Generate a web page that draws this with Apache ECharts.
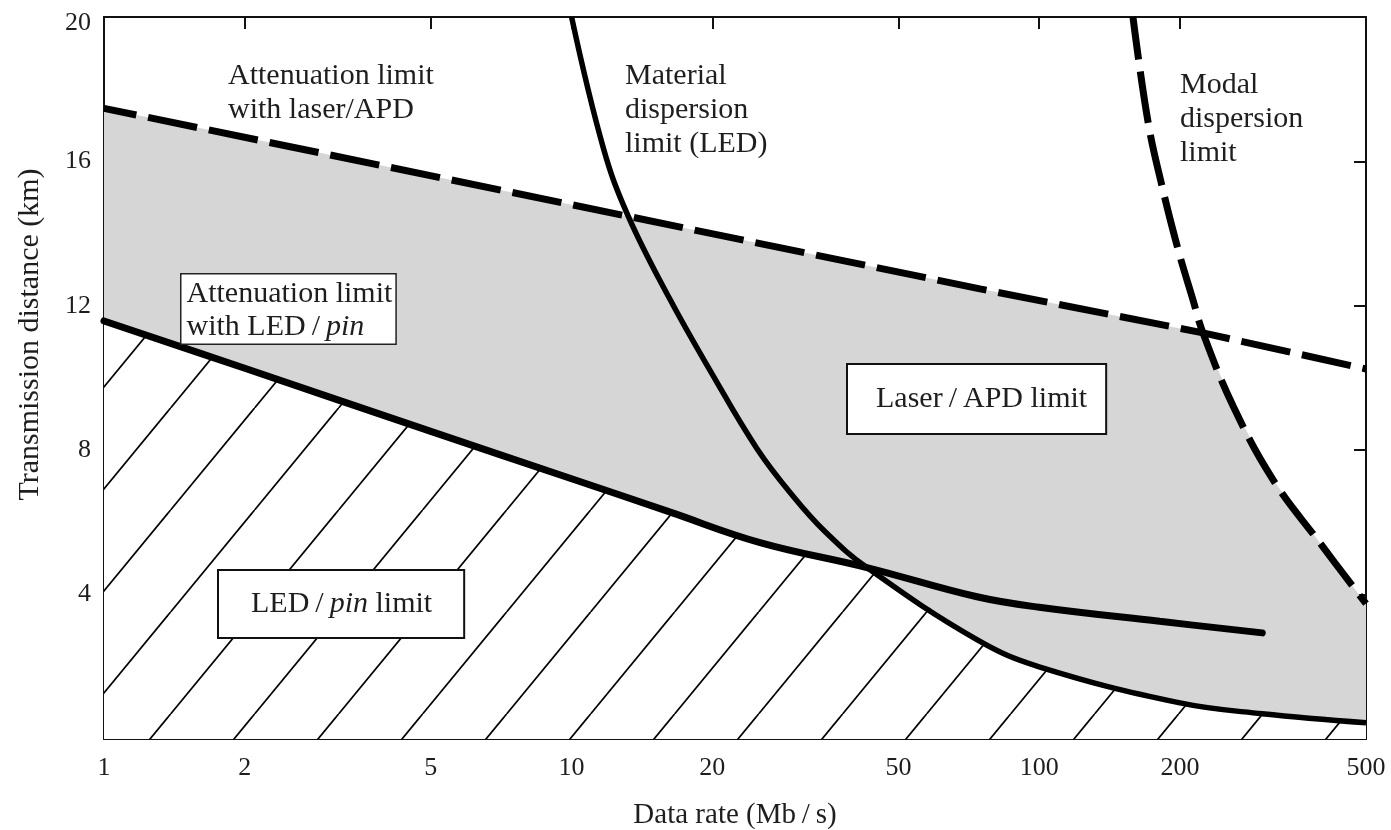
<!DOCTYPE html>
<html><head><meta charset="utf-8">
<script src="https://cdn.jsdelivr.net/npm/echarts@6/dist/echarts.min.js"></script>
<style>html,body{margin:0;padding:0;background:#fff}#c{width:1391px;height:830px}</style>
</head><body><div id="c"></div>
<script>
// ---- data ----
const xTicks = [1, 2, 5, 10, 20, 50, 100, 200, 500];
const yTicks = [4, 8, 12, 16, 20];
// Attenuation limit with laser/APD (dashed)
const laserApd = [[1, 17.47], [10, 14.8], [74.7, 12.47], [224, 11.25], [500, 10.25]];
// Attenuation limit with LED/pin (solid)
const ledPin = [[1, 11.58], [2, 10.27], [5, 8.52], [10, 7.21], [16.2, 6.29], [25.3, 5.44], [42.8, 4.75], [73.6, 3.94], [100, 3.65], [181, 3.26], [300, 2.94]];
// Material dispersion limit (LED) (solid)
const material = [[10, 20], [11.7, 16.36], [13.2, 14.5], [16.2, 12.2], [19.8, 10.2], [24.9, 8.05], [29.8, 6.72], [35, 5.72], [42.8, 4.75], [73.6, 2.75], [100, 2.0], [200, 1.0], [300, 0.7], [500, 0.45]];
// Modal dispersion limit (dashed)
const modal = [[158.7, 20], [170.9, 17.1], [183, 15.33], [198, 13.58], [213, 12.19], [224, 11.25], [260, 9.22], [316, 7.19], [398, 5.44], [500, 3.75]];
const laserModalX = 224;   // where laser/APD meets modal limit
const ledMaterialX = 42.8; // where LED/pin meets material limit

// regions built from the curves
const grayTop = laserApd.filter(p => p[0] <= laserModalX).concat(modal.filter(p => p[0] > laserModalX));
const hatchTop = ledPin.filter(p => p[0] <= ledMaterialX).concat(material.filter(p => p[0] > ledMaterialX));

const F = "'Liberation Serif', 'Times New Roman', serif";
const TXT = '#1e1e1e';

function hatchPattern() {
  const W = 84, H = 102;
  const c = document.createElement('canvas'); c.width = W; c.height = H;
  const g = c.getContext('2d');
  g.fillStyle = '#fff'; g.fillRect(0, 0, W, H);
  g.strokeStyle = '#000'; g.lineWidth = 1.7;
  const phase = 2.6;
  for (let k = -2; k <= 2; k++) {
    const cc = phase + k * W;
    g.beginPath(); g.moveTo(cc, 0); g.lineTo(cc - W, H); g.stroke();
  }
  return c;
}

const axisLine = { show: true, onZero: false, lineStyle: { color: '#111', width: 2 } };
const chart = echarts.init(document.getElementById('c'), null, { renderer: 'canvas' });
chart.setOption({
  animation: false,
  backgroundColor: '#fff',
  grid: { left: 104, right: 25, top: 17, bottom: 91, outerBoundsMode: 'none', show: false },
  xAxis: [{
    type: 'log', logBase: 10, min: 1, max: 500, position: 'bottom',
    name: 'Data rate (Mb\u2009/\u2009s)', nameLocation: 'middle', nameGap: 62,
    nameTextStyle: { fontFamily: F, fontSize: 29, color: TXT },
    axisLine: axisLine,
    axisTick: { show: true, inside: true, length: 12, lineStyle: { color: '#111', width: 2 }, customValues: xTicks },
    axisLabel: { show: true, margin: 16, fontFamily: F, fontSize: 26, color: TXT, customValues: xTicks, formatter: v => String(Math.round(v)) },
    splitLine: { show: false }, minorTick: { show: false }
  }, {
    type: 'log', logBase: 10, min: 1, max: 500, position: 'top',
    axisLine: axisLine,
    axisTick: { show: true, inside: true, length: 12, lineStyle: { color: '#111', width: 2 }, customValues: xTicks },
    axisLabel: { show: false }, splitLine: { show: false }, minorTick: { show: false }
  }],
  yAxis: [{
    type: 'value', min: 0, max: 20, interval: 4, position: 'left',
    name: 'Transmission distance (km)', nameLocation: 'middle', nameGap: 59, nameRotate: 90,
    nameTextStyle: { fontFamily: F, fontSize: 30, color: TXT, padding: [0, 0, 0, 87] },
    axisLine: axisLine,
    axisTick: { show: true, inside: true, length: 12, lineStyle: { color: '#111', width: 2 } },
    axisLabel: { show: true, margin: 13, fontFamily: F, fontSize: 26, color: TXT,
      formatter: v => (v === yTicks[yTicks.length - 1] ? '{t|' + v + '}' : (yTicks.indexOf(v) >= 0 ? String(v) : '')),
      rich: { t: { fontFamily: F, fontSize: 26, color: TXT, padding: [12, 0, 0, 0] } } },
    splitLine: { show: false }
  }, {
    type: 'value', min: 0, max: 20, interval: 4, position: 'right',
    axisLine: axisLine,
    axisTick: { show: true, inside: true, length: 12, lineStyle: { color: '#111', width: 2 } },
    axisLabel: { show: false }, splitLine: { show: false }
  }],
  series: [
    { name: 'laserRegion', type: 'line', data: grayTop, showSymbol: false, silent: true, z: 1,
      lineStyle: { width: 0 }, areaStyle: { color: '#d6d6d6', opacity: 1 } },
    { name: 'ledRegion', type: 'line', data: hatchTop, showSymbol: false, silent: true, z: 2, smooth: 0.2,
      lineStyle: { width: 0 }, areaStyle: { color: { image: hatchPattern(), repeat: 'repeat' }, opacity: 1 } },
    { name: 'Attenuation limit with laser/APD', type: 'line', data: laserApd, showSymbol: false, silent: true, z: 4,
      lineStyle: { color: '#000', width: 7, type: [50, 12], dashOffset: 17 } },
    { name: 'Modal dispersion limit', type: 'line', data: modal, showSymbol: false, silent: true, z: 4, smooth: 0.4,
      lineStyle: { color: '#000', width: 7, type: [52, 12], dashOffset: 9 } },
    { name: 'Material dispersion limit (LED)', type: 'line', data: material, showSymbol: false, silent: true, z: 4, smooth: 0.4,
      lineStyle: { color: '#000', width: 5.5 } },
    { name: 'Attenuation limit with LED/pin', type: 'line', data: ledPin, showSymbol: false, silent: true, z: 4, smooth: 0.4,
      lineStyle: { color: '#000', width: 7, cap: 'round' } }
  ],
  graphic: [
    { type: 'text', left: 228, top: 59, z: 10, style: { text: 'Attenuation limit\nwith laser/APD', font: '30px ' + F, fill: TXT, lineHeight: 34 } },
    { type: 'text', left: 625, top: 59, z: 10, style: { text: 'Material\ndispersion\nlimit (LED)', font: '30px ' + F, fill: TXT, lineHeight: 34 } },
    { type: 'text', left: 1180, top: 68, z: 10, style: { text: 'Modal\ndispersion\nlimit', font: '30px ' + F, fill: TXT, lineHeight: 34 } },
    { type: 'text', left: 180, top: 273, z: 10, style: {
        text: 'Attenuation limit\nwith LED\u2009/\u2009{i|pin}', font: '30px ' + F, fontSize: 30, fontFamily: F, fill: TXT, lineHeight: 33,
        backgroundColor: '#fff', borderColor: '#222', borderWidth: 1.5, padding: [3, 3, 0, 5],
        rich: { i: { fontStyle: 'italic', fontSize: 30, fontFamily: F, fill: TXT, lineHeight: 33 } } } },
    { type: 'text', left: 217, top: 569, z: 10, style: {
        text: 'LED\u2009/\u2009{i|pin} limit', font: '30px ' + F, fontSize: 30, fontFamily: F, fill: TXT, lineHeight: 34,
        backgroundColor: '#fff', borderColor: '#111', borderWidth: 2, padding: [16, 31, 16, 32],
        rich: { i: { fontStyle: 'italic', fontSize: 30, fontFamily: F, fill: TXT, lineHeight: 34 } } } },
    { type: 'text', left: 846, top: 363, z: 10, style: {
        text: 'Laser\u2009/\u2009APD limit', font: '30px ' + F, fill: TXT, lineHeight: 34,
        backgroundColor: '#fff', borderColor: '#111', borderWidth: 2, padding: [17, 18, 17, 28] } }
  ]
});
</script>
</body></html>
